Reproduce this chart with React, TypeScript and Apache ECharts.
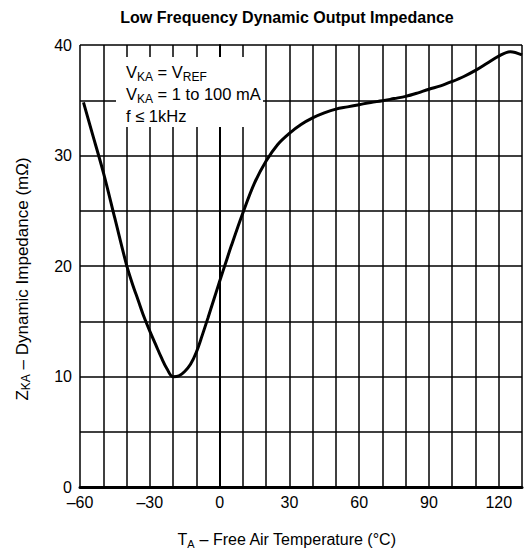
import React, { useEffect, useRef } from "react";
import * as echarts from "echarts";

const temperature = [-58.5, -55, -50, -45, -40, -37.5, -35, -32.5, -30, -27.5, -25, -22.5, -20, -17.5, -15, -12.5, -10, -7.5, -5, -2.5, 0, 2.5, 5, 10, 15, 20, 25, 30, 35, 40, 45, 50, 55, 60, 65, 70, 75, 80, 85, 90, 95, 100, 105, 110, 115, 120, 125, 130];
const impedance = [34.8, 32.2, 28.5, 24.3, 20.1, 18.4, 16.9, 15.4, 14.1, 12.9, 11.7, 10.65, 9.98, 10.05, 10.45, 11.1, 12.2, 13.7, 15.3, 16.95, 18.6, 20.2, 21.8, 24.8, 27.5, 29.5, 31.0, 32.0, 32.8, 33.4, 33.85, 34.2, 34.4, 34.6, 34.8, 34.95, 35.15, 35.35, 35.65, 36.0, 36.3, 36.7, 37.15, 37.7, 38.35, 39.0, 39.4, 39.1];
const xTickLabels = [-60, -30, 0, 30, 60, 90, 120];
const yTickLabels = [0, 10, 20, 30, 40];

const FONT = '"Liberation Sans", Arial, sans-serif';

export default function App() {
  const ref = useRef<HTMLDivElement>(null);
  useEffect(() => {
    if (!ref.current) return;
    const chart = echarts.init(ref.current, null, { renderer: "svg" });
    const data = temperature.map((t, i) => [t, impedance[i]]);
    const fmt = (v: number) => (v < 0 ? "\u2013" + Math.abs(v) : String(v));
    const mk = (size: number, lh: number, subSize: number, subLh: number) => ({
      b: { fontSize: size, fontFamily: FONT, color: "#000", lineHeight: lh },
      s: { fontSize: subSize, fontFamily: FONT, color: "#000", lineHeight: subLh, verticalAlign: "bottom" as const },
    });
    chart.setOption({
      animation: false,
      backgroundColor: "#fff",
      grid: { left: 80, right: 4, top: 45, bottom: 70, containLabel: false },
      xAxis: {
        type: "value",
        min: -60,
        max: 130,
        interval: 10,
        axisLine: { show: true, onZero: false, lineStyle: { color: "#000", width: 3 } },
        axisTick: { show: false },
        axisLabel: {
          margin: 8,
          fontSize: 16,
          lineHeight: 14,
          fontFamily: FONT,
          color: "#000",
          formatter: (v: number) => (xTickLabels.includes(v) ? fmt(v) : ""),
        },
        splitLine: { show: true, lineStyle: { color: "#000", width: 1.5 } },
      },
      yAxis: {
        type: "value",
        min: 0,
        max: 40,
        interval: 5,
        axisLine: { show: true, lineStyle: { color: "#000", width: 2 } },
        axisTick: { show: false },
        axisLabel: {
          margin: 8,
          fontSize: 16,
          lineHeight: 14,
          fontFamily: FONT,
          color: "#000",
          formatter: (v: number) => (yTickLabels.includes(v) ? String(v) : ""),
        },
        splitLine: { show: true, lineStyle: { color: "#000", width: 1.5 } },
      },
      graphic: [
        {
          type: "rect",
          shape: { x: 116, y: 57, width: 147, height: 70 },
          style: { fill: "#fff" },
          z: 10,
        },
        {
          type: "text",
          x: 126,
          y: 61,
          z: 11,
          style: {
            text: "{b|V}{s|KA}{b| = V}{s|REF}\n{b|V}{s|KA}{b| = 1 to 100 mA}\n{b|f ≤ 1kHz}",
            rich: mk(16.5, 22, 12, 13),
          },
        },
        {
          type: "text",
          x: 287,
          y: 17,
          style: {
            text: "Low Frequency Dynamic Output Impedance",
            fontSize: 16,
            fontWeight: "bold",
            fontFamily: FONT,
            fill: "#000",
            align: "center",
            verticalAlign: "middle",
          },
        },
        {
          type: "text",
          x: 287,
          y: 529,
          style: {
            text: "{b|T}{s|A}{b| – Free Air Temperature (°C)}",
            align: "center",
            rich: mk(16, 20, 11, 12),
          },
        },
        {
          type: "text",
          x: 22,
          y: 279,
          rotation: Math.PI / 2,
          style: {
            text: "{b|Z}{s|KA}{b| – Dynamic Impedance (mΩ)}",
            align: "center",
            verticalAlign: "middle",
            rich: mk(17, 20, 12, 12),
          },
        },
      ],
      series: [
        {
          type: "line",
          data,
          smooth: 0.35,
          symbol: "none",
          lineStyle: { color: "#000", width: 3 },
          z: 5,
        },
      ],
    });
    return () => chart.dispose();
  }, []);
  return <div ref={ref} style={{ position: "fixed", left: 0, top: 0, width: 526, height: 557 }} />;
}
